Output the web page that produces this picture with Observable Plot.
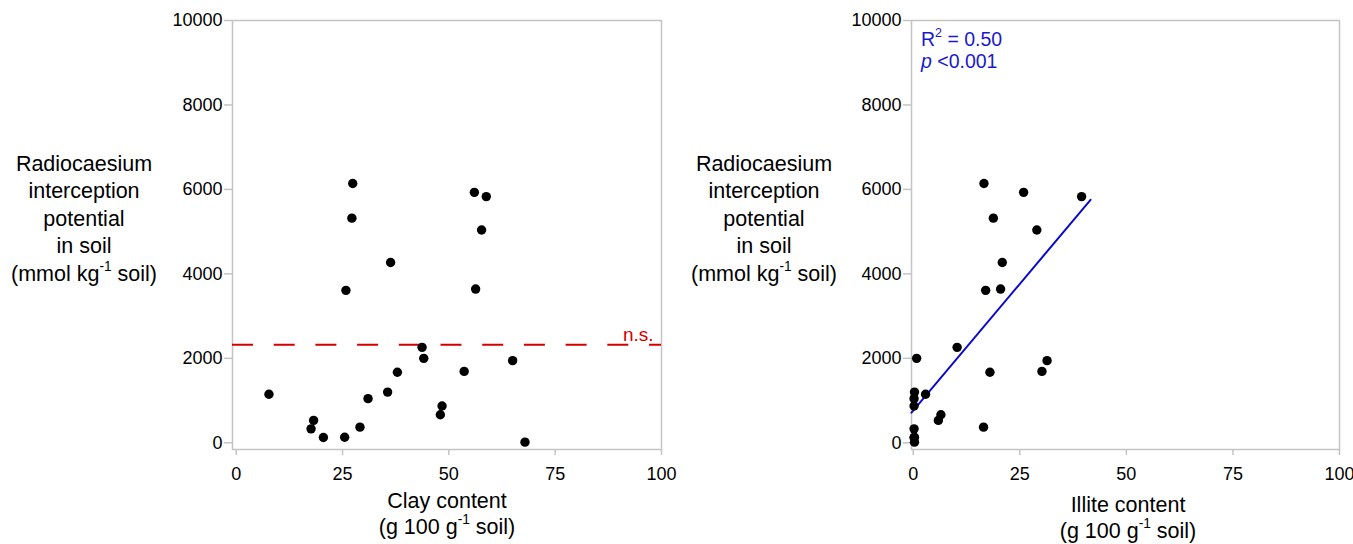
<!DOCTYPE html>
<html>
<head>
<meta charset="utf-8">
<script src="https://cdn.jsdelivr.net/npm/d3@7"></script>
<script src="https://cdn.jsdelivr.net/npm/@observablehq/plot@0.6"></script>
<style>
  html, body { margin: 0; padding: 0; background: #fff; overflow: hidden; }
  #figure { position: relative; width: 1353px; height: 544px; font-family: "Liberation Sans", Arial, sans-serif; color: #000; }
  .panel { position: absolute; top: 0; }
  .panel svg { display: block; overflow: visible; }
  .ytitle { position: absolute; left: 0; top: 150.5px; width: 168px; text-align: center; font-size: 21.5px; line-height: 27.5px; }
  .xtitle { position: absolute; width: 400px; text-align: center; font-size: 21.5px; line-height: 26px; }
  .stat { position: absolute; left: 241px; font-size: 19.5px; line-height: 18px; color: #1a1acc; white-space: nowrap; }
  sup { font-size: 0.64em; line-height: 0; position: relative; top: -0.1em; vertical-align: super; }
</style>
</head>
<body>
<div id="figure">
  <div class="panel" id="left" style="left:0px;width:680px;height:544px">
    <div class="ytitle">Radiocaesium<br>interception<br>potential<br>in soil<br>(mmol kg<sup>-1</sup> soil)</div>
    <div class="xtitle" style="left:247px;top:488px">Clay content<br>(g 100 g<sup>-1</sup> soil)</div>
  </div>
  <div class="panel" id="right" style="left:680px;width:673px;height:544px">
    <div class="ytitle">Radiocaesium<br>interception<br>potential<br>in soil<br>(mmol kg<sup>-1</sup> soil)</div>
    <div class="xtitle" style="left:248px;top:492px">Illite content<br>(g 100 g<sup>-1</sup> soil)</div>
    <div class="stat" style="top:29.75px">R<sup>2</sup> = 0.50</div>
    <div class="stat" style="top:51.75px"><i>p</i> &lt;0.001</div>
  </div>
</div>
<script>
// Radiocaesium interception potential (mmol kg-1 soil) for each soil sample
const rip = [1150, 530, 330, 125, 130, 3610, 5320, 6140, 370, 1045, 1200, 4270,
             1670, 2260, 2000, 665, 870, 1690, 5930, 3640, 5040, 5830, 1945, 15];
// Clay content (g 100 g-1 soil), same sample order
const clay = [7.7, 18.2, 17.6, 20.5, 25.5, 25.8, 27.2, 27.4, 29.1, 31.0, 35.6, 36.3,
              37.9, 43.7, 44.1, 48.0, 48.4, 53.6, 56.0, 56.3, 57.7, 58.8, 65.0, 67.9];
// Illite content (g 100 g-1 soil), same sample order
const illite = [2.9, 5.9, 0.2, 0.2, 0.3, 17.0, 18.8, 16.6, 16.5, 0.2, 0.3, 20.9,
                18.0, 10.3, 0.8, 6.5, 0.2, 30.2, 25.9, 20.5, 29.0, 39.5, 31.4, 0.3];

const xTicks = [0, 25, 50, 75, 100];
const yTicks = [0, 2000, 4000, 6000, 8000, 10000];
// x range over which the fitted illite line is shown
const fitSpan = [-0.4, 41.6];

const samples = rip.map((v, i) => ({rip: v, clay: clay[i], illite: illite[i]}));

const gray = "#c4c4c4";
const red = "#d40000";
const blue = "#0a0acc";
const fmt = d3.format("d");

function panel({xKey, xDomain, marginLeft, marginRight, width, extra}) {
  return Plot.plot({
    width, height: 480,
    marginLeft, marginRight, marginTop: 20, marginBottom: 31,
    x: {domain: xDomain},
    y: {domain: [-159, 10000]},
    style: {fontFamily: "'Liberation Sans', Arial, sans-serif", fontSize: "18px", color: "#000", background: "transparent", overflow: "visible"},
    marks: [
      Plot.frame({stroke: gray, strokeWidth: 1.5}),
      Plot.axisX({ticks: xTicks, tickFormat: fmt, tickSize: 6, tickPadding: 12, stroke: gray, strokeWidth: 1.5, label: null, fill: "#000"}),
      Plot.axisY({ticks: yTicks, tickFormat: fmt, tickSize: 8, tickPadding: 2, stroke: gray, strokeWidth: 1.5, label: null, fill: "#000"}),
      ...extra,
      Plot.dot(samples, {x: xKey, y: "rip", r: 4.7, fill: "#000", stroke: null})
    ]
  });
}

// Left panel: no significant relation, mean shown as a dashed line
const ripMean = d3.mean(rip);
const left = panel({
  xKey: "clay", xDomain: [-0.87, 100], marginLeft: 232, marginRight: 19, width: 680,
  extra: [
    Plot.ruleY([ripMean], {stroke: red, strokeWidth: 2, strokeDasharray: "21,20.7"}),
    Plot.text([ripMean], {y: d => d, frameAnchor: "right", textAnchor: "end", dx: -8, dy: -10, text: () => "n.s.", fill: red, fontSize: 19})
  ]
});

// Right panel: least-squares fit of RIP on illite content
const mx = d3.mean(illite), my = d3.mean(rip);
const slope = d3.sum(samples, d => (d.illite - mx) * (d.rip - my)) / d3.sum(samples, d => (d.illite - mx) ** 2);
const intercept = my - slope * mx;
const fitLine = fitSpan.map(x => ({illite: x, rip: intercept + slope * x}));
const right = panel({
  xKey: "illite", xDomain: [-0.4, 100], marginLeft: 231, marginRight: 14, width: 673,
  extra: [
    Plot.line(fitLine, {x: "illite", y: "rip", stroke: blue, strokeWidth: 2})
  ]
});

document.getElementById("left").prepend(left);
document.getElementById("right").prepend(right);
</script>
</body>
</html>
